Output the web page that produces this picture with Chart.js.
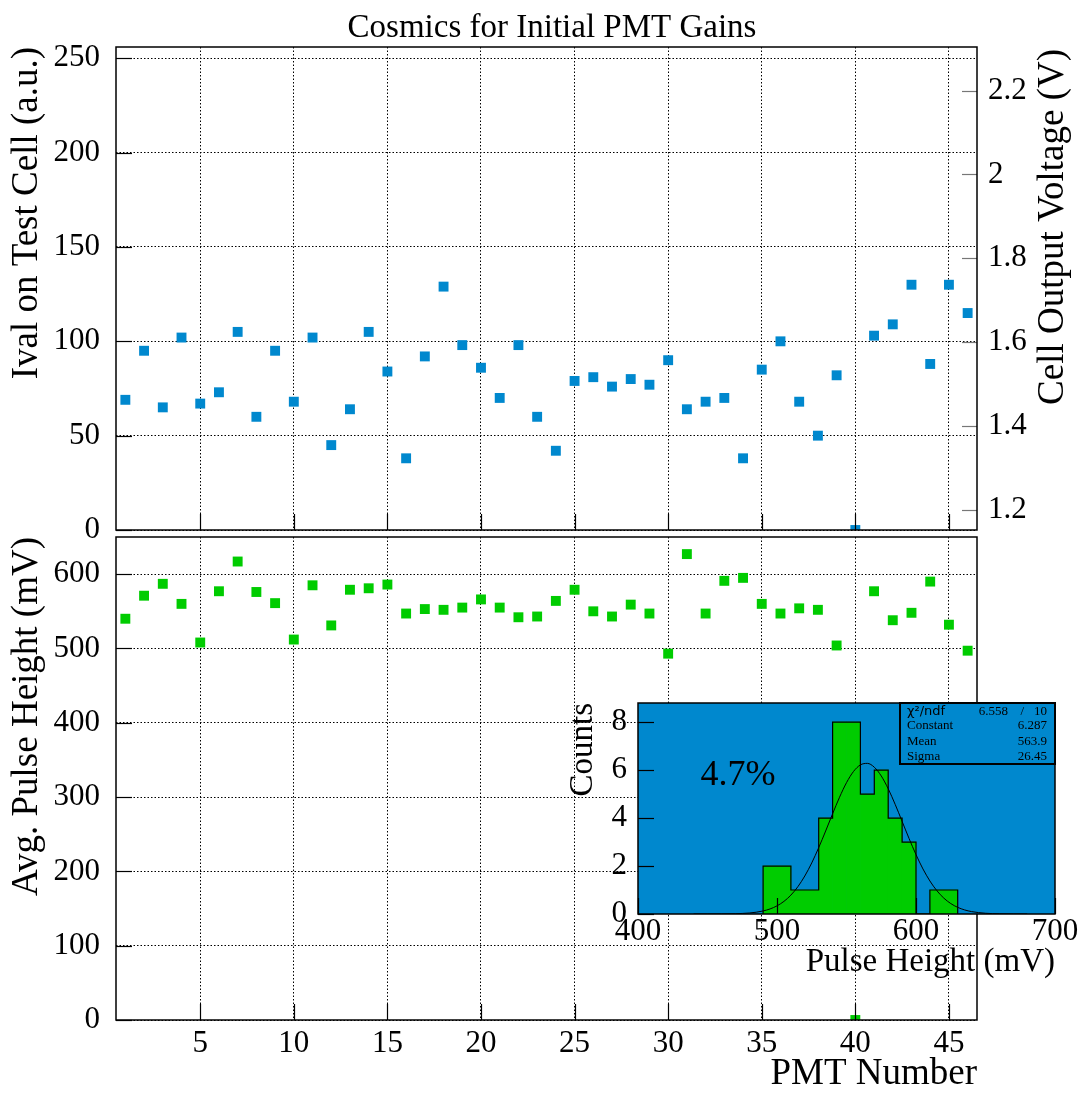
<!DOCTYPE html>
<html>
<head>
<meta charset="utf-8">
<title>Cosmics for Initial PMT Gains</title>
<script src="https://cdn.jsdelivr.net/npm/chart.js@4.4.1/dist/chart.umd.min.js"></script>
<style>
  body { margin: 0; background: #fff; }
  #page { position: relative; width: 1092px; height: 1093px; overflow: hidden; }
  canvas { position: absolute; }
  #top-chart { left: 0; top: 0; }
  #bottom-chart { left: 0; top: 530px; }
  #inset-chart { left: 560px; top: 690px; }
</style>
</head>
<body>
<div id="page">
  <canvas id="top-chart" width="1092" height="560"></canvas>
  <canvas id="bottom-chart" width="1092" height="563"></canvas>
  <canvas id="inset-chart" width="532" height="300"></canvas>
</div>
<script>
// PMT numbers and the two measured quantities
const PMT = [1, 2, 3, 4, 5, 6, 7, 8, 9, 10, 11, 12, 13, 14, 15, 16, 17, 18, 19, 20, 21, 22, 23,
             24, 25, 26, 27, 28, 29, 30, 31, 32, 33, 34, 35, 36, 37, 38, 39, 40, 41, 42, 43, 44, 45, 46];
const IVAL = [69, 95, 65, 102, 67, 73, 105, 60, 95, 68, 102, 45, 64, 105, 84, 38, 92, 129, 98, 86, 70, 98, 60,
              42, 79, 81, 76, 80, 77, 90, 64, 68, 70, 38, 85, 100, 68, 50, 82, 0, 103, 109, 130, 88, 130, 115];
const PULSE = [540, 571, 587, 560, 508, 577, 617, 576, 561, 512, 585, 531, 579, 581, 586, 547, 553, 552, 555, 566, 555, 542, 543,
               564, 579, 550, 543, 559, 547, 493, 627, 547, 591, 595, 560, 547, 554, 552, 504, 0, 577, 538, 548, 590, 532, 497];

// tick values
const X_TICKS = [5, 10, 15, 20, 25, 30, 35, 40, 45];
const IVAL_TICKS = [0, 50, 100, 150, 200, 250];
const VOLT_TICKS = [1.2, 1.4, 1.6, 1.8, 2, 2.2];
const PULSE_TICKS = [0, 100, 200, 300, 400, 500, 600];
const HIST_X_TICKS = [400, 500, 600, 700];
const HIST_Y_TICKS = [0, 2, 4, 6, 8];

// pulse height histogram (10 mV bins)
const HIST_LOW_EDGES = [490, 500, 510, 520, 530, 540, 550, 560, 570, 580, 590, 600, 610, 620];
const HIST_COUNTS = [2, 2, 1, 1, 4, 8, 8, 5, 6, 4, 3, 0, 1, 1];
const HIST_BIN_WIDTH = 10;

// gaussian fit curve as drawn (Constant 6.287, Mean 563.9, Sigma 26.45)
const FIT_X = [440, 450, 460, 470, 480, 485, 490, 495, 500, 505, 510, 515, 520, 525, 530, 535, 540, 545, 550, 555,
               560, 565, 570, 575, 580, 585, 590, 595, 600, 605, 610, 615, 620, 625, 630, 635, 640, 650, 660, 670, 680];
const FIT_Y = [0.0001, 0.0006, 0.003, 0.012, 0.041, 0.074, 0.127, 0.211, 0.340, 0.526, 0.788, 1.138, 1.585, 2.131, 2.766,
               3.461, 4.180, 4.871, 5.476, 5.941, 6.219, 6.282, 6.122, 5.757, 5.224, 4.574, 3.864, 3.150, 2.477, 1.880,
               1.377, 0.973, 0.663, 0.436, 0.277, 0.170, 0.100, 0.031, 0.009, 0.002, 0.0004];

const SERIF = '"Liberation Serif", "Times New Roman", serif';
const BLUE = 'rgb(0,136,206)';
const GREEN = 'rgb(0,204,0)';
const DOTS = [1.5, 2];

const tickFont = { family: SERIF, size: 31, lineHeight: 1 };
const titleFont = { family: SERIF, size: 37, lineHeight: 0.8 };

function setTicks(values) {
    return scale => { scale.ticks = values.map(v => ({ value: v })); };
}

// fixed axis size, and no extra room reserved for overhanging labels
function fixSize(width, height) {
    return scale => {
        if (width !== null) scale.width = width;
        if (height !== null) scale.height = height;
        scale.paddingTop = 0;
        scale.paddingBottom = 0;
        scale.paddingLeft = 0;
        scale.paddingRight = 0;
    };
}

// filled frame, inward tick marks, frame border
const framePlugin = {
    id: 'frame',
    beforeDatasetsDraw(chart, args, opts) {
        if (!opts.fill) return;
        const { ctx, chartArea: a } = chart;
        ctx.save();
        ctx.fillStyle = opts.fill;
        ctx.fillRect(a.left, a.top, a.width, a.height);
        ctx.restore();
    },
    afterDatasetsDraw(chart, args, opts) {
        const { ctx, chartArea: a } = chart;
        ctx.save();
        (opts.marks || []).forEach(t => {
            const scale = chart.scales[t.id];
            ctx.strokeStyle = t.color || '#000';
            ctx.lineWidth = 1.2;
            scale.ticks.forEach(tick => {
                const p = Math.round(scale.getPixelForValue(tick.value)) + 0.5;
                ctx.beginPath();
                if (t.side === 'left') { ctx.moveTo(a.left, p); ctx.lineTo(a.left + t.len, p); }
                else if (t.side === 'right') { ctx.moveTo(a.right, p); ctx.lineTo(a.right - t.len, p); }
                else { ctx.moveTo(p, a.bottom); ctx.lineTo(p, a.bottom - t.len); }
                ctx.stroke();
            });
        });
        ctx.strokeStyle = '#000';
        ctx.lineWidth = 1.5;
        ctx.strokeRect(a.left, a.top, a.width, a.height);
        ctx.restore();
    }
};

// right axis title, reading upwards like the left one
const rightTitlePlugin = {
    id: 'rightTitle',
    afterDraw(chart) {
        const ctx = chart.ctx;
        ctx.save();
        ctx.translate(1053, 49);
        ctx.rotate(-Math.PI / 2);
        ctx.font = '37px ' + SERIF;
        ctx.fillStyle = '#000';
        ctx.textAlign = 'right';
        ctx.textBaseline = 'middle';
        ctx.fillText('Cell Output Voltage (V)', 0, 0);
        ctx.restore();
    }
};

// fit box and resolution label of the inset
const fitBoxPlugin = {
    id: 'fitBox',
    afterDraw(chart) {
        const ctx = chart.ctx;
        const a = chart.chartArea;
        const left = a.right - 155, top = a.top, w = 155, h = 61;
        ctx.save();
        ctx.strokeStyle = '#000';
        ctx.lineWidth = 2;
        ctx.strokeRect(left, top, w, h);
        ctx.fillStyle = '#000';
        ctx.textBaseline = 'middle';
        ctx.font = '13px "DejaVu Sans", sans-serif';
        ctx.textAlign = 'left';
        ctx.fillText('χ²/ndf', left + 7, top + 9);
        ctx.font = '13px ' + SERIF;
        ctx.fillText('Constant', left + 7, top + 23);
        ctx.fillText('Mean', left + 7, top + 38.5);
        ctx.fillText('Sigma', left + 7, top + 54);
        ctx.textAlign = 'right';
        ctx.fillText('6.558', left + 108, top + 9);
        ctx.fillText('/', left + 124, top + 9);
        ctx.fillText('10', left + 147, top + 9);
        ctx.fillText('6.287', left + 147, top + 23);
        ctx.fillText('563.9', left + 147, top + 38.5);
        ctx.fillText('26.45', left + 147, top + 54);
        ctx.font = '36px ' + SERIF;
        ctx.textAlign = 'center';
        ctx.fillText('4.7%', 178, 86);
        ctx.restore();
    }
};

// top panel: Ival per PMT
new Chart(document.getElementById('top-chart'), {
    type: 'scatter',
    data: {
        datasets: [{
            data: PMT.map((p, i) => ({ x: p, y: IVAL[i] })),
            backgroundColor: BLUE,
            borderColor: BLUE,
            borderWidth: 0,
            pointStyle: 'rect',
            pointRadius: 7,
            pointHoverRadius: 7,
            clip: 0
        }]
    },
    options: {
        responsive: false,
        animation: false,
        devicePixelRatio: 1,
        layout: { padding: { left: 12, right: 0, top: 0, bottom: 0 } },
        plugins: {
            legend: { display: false },
            tooltip: { enabled: false },
            title: {
                display: true,
                text: 'Cosmics for Initial PMT Gains',
                color: '#000',
                font: { family: SERIF, size: 33, weight: 'normal', lineHeight: 1 },
                padding: { top: 12, bottom: 2 }
            },
            frame: {
                marks: [
                    { id: 'y', side: 'left', len: 16 },
                    { id: 'x', side: 'bottom', len: 16 },
                    { id: 'y2', side: 'right', len: 15, color: '#777' }
                ]
            }
        },
        scales: {
            x: {
                type: 'linear', min: 0.5, max: 46.5,
                afterBuildTicks: setTicks(X_TICKS),
                ticks: { display: false },
                grid: { color: '#000', lineWidth: 1, drawTicks: false },
                border: { display: false, dash: DOTS },
                afterFit: fixSize(null, 30)
            },
            y: {
                type: 'linear', position: 'left', min: 0, max: 256,
                afterBuildTicks: setTicks(IVAL_TICKS),
                ticks: { font: tickFont, color: '#000', padding: 16, autoSkip: false },
                grid: { color: '#000', lineWidth: 1, drawTicks: false },
                border: { display: false, dash: DOTS },
                title: { display: true, text: 'Ival on Test Cell (a.u.)', align: 'end', color: '#000', font: titleFont, padding: { top: 0 } },
                afterFit: fixSize(104, null)
            },
            y2: {
                type: 'linear', position: 'right', min: 1.152, max: 2.304,
                afterBuildTicks: setTicks(VOLT_TICKS),
                ticks: { font: tickFont, color: '#000', padding: 11, autoSkip: false, callback: v => String(v) },
                grid: { display: false, drawTicks: false },
                border: { display: false },
                afterFit: fixSize(115, null)
            }
        }
    },
    plugins: [framePlugin, rightTitlePlugin]
});

// bottom panel: average pulse height per PMT
new Chart(document.getElementById('bottom-chart'), {
    type: 'scatter',
    data: {
        datasets: [{
            data: PMT.map((p, i) => ({ x: p, y: PULSE[i] })),
            backgroundColor: GREEN,
            borderColor: GREEN,
            borderWidth: 0,
            pointStyle: 'rect',
            pointRadius: 7,
            pointHoverRadius: 7,
            clip: 0
        }]
    },
    options: {
        responsive: false,
        animation: false,
        devicePixelRatio: 1,
        layout: { padding: { left: 0, right: 115, top: 7, bottom: 0 } },
        plugins: {
            legend: { display: false },
            tooltip: { enabled: false },
            frame: {
                marks: [
                    { id: 'y', side: 'left', len: 16 },
                    { id: 'x', side: 'bottom', len: 16 }
                ]
            }
        },
        scales: {
            x: {
                type: 'linear', min: 0.5, max: 46.5,
                afterBuildTicks: setTicks(X_TICKS),
                ticks: { font: tickFont, color: '#000', padding: 8, maxRotation: 0, autoSkip: false },
                grid: { color: '#000', lineWidth: 1, drawTicks: false },
                border: { display: false, dash: DOTS },
                title: { display: true, text: 'PMT Number', align: 'end', color: '#000', font: titleFont, padding: { top: 0, bottom: 4 } },
                afterFit: fixSize(null, 73)
            },
            y: {
                type: 'linear', position: 'left', min: 0, max: 650,
                afterBuildTicks: setTicks(PULSE_TICKS),
                ticks: { font: tickFont, color: '#000', padding: 16, autoSkip: false },
                grid: { color: '#000', lineWidth: 1, drawTicks: false },
                border: { display: false, dash: DOTS },
                title: { display: true, text: 'Avg. Pulse Height (mV)', align: 'end', color: '#000', font: titleFont, padding: { top: 12 } },
                afterFit: fixSize(116, null)
            }
        }
    },
    plugins: [framePlugin]
});

// inset: pulse height distribution with gaussian fit
const outline = [{ x: HIST_LOW_EDGES[0], y: 0 }];
HIST_LOW_EDGES.forEach((lo, i) => outline.push({ x: lo, y: HIST_COUNTS[i] }));
outline.push({ x: HIST_LOW_EDGES[HIST_LOW_EDGES.length - 1] + HIST_BIN_WIDTH, y: 0 });

new Chart(document.getElementById('inset-chart'), {
    type: 'bar',
    data: {
        datasets: [
            {
                type: 'line',
                data: FIT_X.map((x, i) => ({ x: x, y: FIT_Y[i] })),
                borderColor: '#000',
                borderWidth: 1,
                pointRadius: 0,
                cubicInterpolationMode: 'monotone',
                order: 0,
                clip: 0
            },
            {
                type: 'line',
                data: outline,
                stepped: true,
                borderColor: '#000',
                borderWidth: 1.2,
                pointRadius: 0,
                order: 1,
                clip: 0
            },
            {
                type: 'bar',
                data: HIST_LOW_EDGES.map((lo, i) => ({ x: lo + HIST_BIN_WIDTH / 2, y: HIST_COUNTS[i] })),
                backgroundColor: GREEN,
                borderWidth: 0,
                barPercentage: 1,
                categoryPercentage: 1,
                order: 2
            }
        ]
    },
    options: {
        responsive: false,
        animation: false,
        devicePixelRatio: 1,
        layout: { padding: { left: 0, right: 37, top: 13, bottom: 0 } },
        plugins: {
            legend: { display: false },
            tooltip: { enabled: false },
            frame: {
                fill: BLUE,
                marks: [
                    { id: 'y', side: 'left', len: 16 },
                    { id: 'x', side: 'bottom', len: 16 }
                ]
            }
        },
        scales: {
            x: {
                type: 'linear', min: 400, max: 700, offset: false,
                afterBuildTicks: setTicks(HIST_X_TICKS),
                ticks: { font: tickFont, color: '#000', padding: 2, maxRotation: 0, autoSkip: false },
                grid: { display: false, offset: false, drawTicks: false },
                border: { display: false },
                title: { display: true, text: 'Pulse Height (mV)', align: 'end', color: '#000',
                         font: { family: SERIF, size: 33, lineHeight: 0.8 }, padding: { top: 0, bottom: 14 } },
                afterFit: fixSize(null, 76)
            },
            y: {
                type: 'linear', min: 0, max: 8.8,
                afterBuildTicks: setTicks(HIST_Y_TICKS),
                ticks: { font: tickFont, color: '#000', padding: 11, autoSkip: false },
                grid: { display: false, drawTicks: false },
                border: { display: false },
                title: { display: true, text: 'Counts', align: 'end', color: '#000',
                         font: { family: SERIF, size: 33, lineHeight: 0.8 }, padding: { top: 10 } },
                afterFit: fixSize(78, null)
            }
        }
    },
    plugins: [framePlugin, fitBoxPlugin]
});
</script>
</body>
</html>
